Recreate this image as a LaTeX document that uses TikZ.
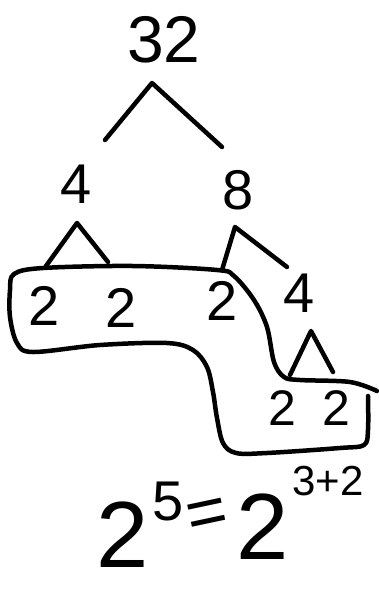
\documentclass[tikz,border=0pt]{standalone}
\usepackage{fontspec}
\setmainfont{Liberation Sans}
\begin{document}
\begin{tikzpicture}[x=1pt,y=-1pt,
  ink/.style={line width=4.5pt,line cap=round,line join=round,black},
  num/.style={inner sep=0pt,font=\fontsize{56}{56}\selectfont},
  big/.style={inner sep=0pt,font=\fontsize{66}{66}\selectfont},
  huge2/.style={inner sep=0pt,font=\fontsize{94}{94}\selectfont}]
\useasboundingbox (0,0) rectangle (379,590);
% numbers
\node[big] (n32) at (164,40) {32};
\node[num] (n4) at (76,184) {4};
\node[num] (n8) at (238,190) {8};
\node[num] (a2) at (44,306) {2};
\node[num] (b2) at (121,308) {2};
\node[num] (c2) at (222,301) {2};
\node[num] (n4b) at (299,293) {4};
\node[num,font=\fontsize{50}{50}\selectfont] (d2) at (282,408) {2};
\node[num,font=\fontsize{50}{50}\selectfont] (e2) at (336,408) {2};
% connectors
\coordinate (t1) at (152,83); \coordinate (l1) at (105,140); \coordinate (r1) at (222,147);
\coordinate (t2) at (77,223); \coordinate (l2) at (46,266); \coordinate (r2) at (108,262);
\coordinate (t3) at (235,227); \coordinate (l3) at (222,270); \coordinate (r3) at (287,267);
\coordinate (t4) at (311,331); \coordinate (l4) at (290,375); \coordinate (r4) at (333,372);
\draw[ink] (l1) -- (t1) -- (r1);
\draw[ink] (l2) -- (t2) -- (r2);
\draw[ink] (l3) -- (t3) -- (r3);
\draw[ink] (l4) -- (t4) -- (r4);
% loop
\draw[ink] plot[smooth,tension=0.55] coordinates {
 (377,391) (350,382) (300,380) (284,377) (274,362) (267,327) (254,300) (234,276)
 (217,270) (133,266) (43,268) (14,274) (10,290) (10,317) (17,343) (33,352)
 (100,345) (167,343) (193,350) (207,367) (213,392) (217,418) (223,443) (236,453)
 (267,453) (340,448) (364,445) (368,430) (368,396)};
% formula
\node[huge2] (f2a) at (123,535) {2};
\node[num] (f5) at (168,502) {5};
\node[inner sep=0pt,font=\fontsize{70}{70}\selectfont,rotate=12] (feq) at (208,518) {=};
\node[huge2] (f2b) at (263,527) {2};
\node[inner sep=0pt,font=\fontsize{42}{42}\selectfont] (f32) at (328,481) {3+2};
\end{tikzpicture}
\end{document}
